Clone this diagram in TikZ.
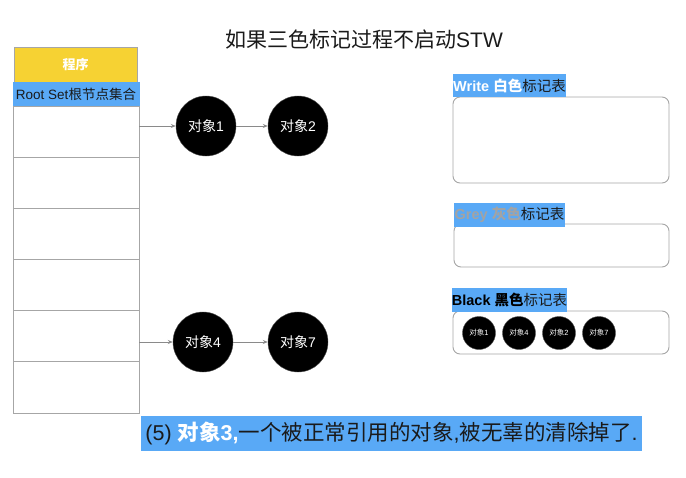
\documentclass[tikz,border=0pt]{standalone}
\usepackage{fontspec}
\setmainfont{Liberation Sans}
\newfontfamily\cjk{Noto Sans CJK SC}
\usetikzlibrary{arrows.meta}
\definecolor{lblblue}{HTML}{59A9F6}
\definecolor{prgyellow}{HTML}{F6D233}
\definecolor{bordergray}{HTML}{A6A6A6}
\definecolor{arrowgray}{HTML}{8A8A8A}
\definecolor{greytxt}{HTML}{A3A3A3}
\definecolor{darktxt}{HTML}{1A1A1A}
\newcommand{\fsz}[1]{\fontsize{#1}{#1}\selectfont}
\newcommand{\zh}[1]{{\cjk #1}}
\begin{document}
\begin{tikzpicture}[x=1pt,y=-1pt,
  obj/.style={circle,fill=black,draw=black!70,minimum size=60pt,inner sep=0pt,text=white,font=\fsz{14}},
  smallobj/.style={circle,fill=black,draw=black!70,minimum size=33pt,inner sep=0pt,text=white,font=\fsz{7.5}},
  lbl/.style={fill=lblblue,inner sep=0pt,anchor=center},
  tbox/.style={draw=bordergray,line width=0.9pt,rounded corners=7pt,fill=white},
  conn/.style={draw=arrowgray,line width=0.7pt,-{Stealth[length=5pt,width=4pt]}}
]
\useasboundingbox (0,0) rectangle (686,477);

% title
\node[font=\fsz{21},text=darktxt] (title) at (364,40) {\zh{如果三色标记过程不启动}STW};

% program box
\node[draw=bordergray,fill=prgyellow,minimum width=123pt,minimum height=35pt,inner sep=0pt,text=white,font=\fsz{13}\bfseries] (prog) at (75.5,64.5) {\zh{程序}};
\node[lbl,minimum width=127pt,minimum height=24pt,font=\fsz{13.5},text=darktxt] (root) at (76,94) {Root Set\zh{根节点集合}};

% table
\draw[draw=bordergray,line width=0.9pt] (13,106) rectangle (139,413);
\foreach \yy in {157,208,259,310,361}{
  \draw[draw=bordergray,line width=0.9pt] (13,\yy) -- (139,\yy);
}
\coordinate (s1) at (139,126);
\coordinate (s5) at (139,342);

% objects
\node[obj] (o1) at (206,126) {\zh{对象}1};
\node[obj] (o2) at (298,126) {\zh{对象}2};
\node[obj] (o4) at (203,342) {\zh{对象}4};
\node[obj] (o7) at (298,342) {\zh{对象}7};
\draw[conn] (s1) -- (o1);
\draw[conn] (o1) -- (o2);
\draw[conn] (s5) -- (o4);
\draw[conn] (o4) -- (o7);

% white table
\node[tbox,minimum width=216pt,minimum height=86pt] (wbox) at (561,140) {};
\node[lbl,minimum width=113pt,minimum height=23pt,font=\fsz{14.5}] (wlbl) at (509.5,85.5) {{\color{white}\bfseries Write \zh{白色}}{\color{darktxt}\zh{标记表}}};

% grey table
\node[tbox,minimum width=215pt,minimum height=43pt] (gbox) at (561.5,245.5) {};
\node[lbl,minimum width=111pt,minimum height=24pt,font=\fsz{14.5}] (glbl) at (509.5,215) {{\color{greytxt}\bfseries Grey \zh{灰色}}{\color{darktxt}\zh{标记表}}};

% black table
\node[tbox,minimum width=216pt,minimum height=43pt] (bbox) at (561,332.5) {};
\node[lbl,minimum width=115pt,minimum height=24pt,font=\fsz{14.5}] (blbl) at (509.5,299.5) {{\color{black}\bfseries Black \zh{黑色}}{\color{darktxt}\zh{标记表}}};

\node[smallobj] (b1) at (479,333) {\zh{对象}1};
\node[smallobj] (b4) at (519,333) {\zh{对象}4};
\node[smallobj] (b2) at (559,333) {\zh{对象}2};
\node[smallobj] (b7) at (599,333) {\zh{对象}7};

% caption
\node[lbl,minimum width=501pt,minimum height=35pt,font=\fsz{21.5},text=darktxt] (cap) at (391.5,433.5) {(5) {\color{white}\bfseries \zh{对象}3,}\zh{一个被正常引用的对象},\zh{被无辜的清除掉了}.};
\end{tikzpicture}
\end{document}
